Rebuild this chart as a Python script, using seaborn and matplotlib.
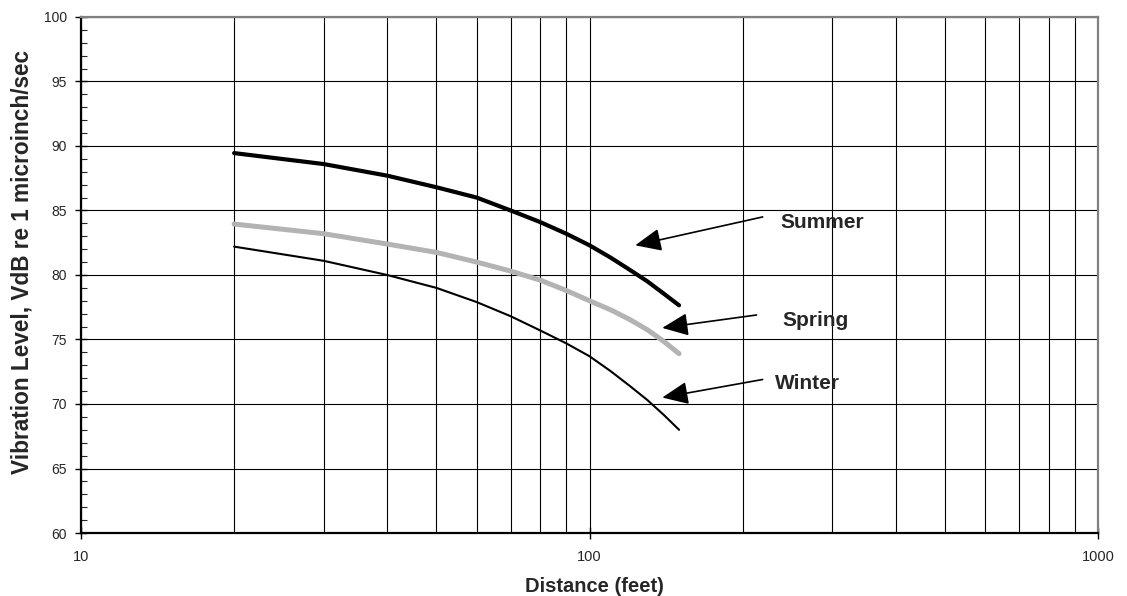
"""Vibration level vs distance for three seasons."""
import matplotlib
matplotlib.use('Agg')
import matplotlib.pyplot as plt
from matplotlib.ticker import FixedLocator, FixedFormatter, MultipleLocator, NullFormatter
import seaborn as sns

distance = [20, 30, 40, 50, 60, 70, 80, 90, 100, 110, 120, 130, 140, 150]
summer = [89.45, 88.6, 87.7, 86.8, 86.0, 85.0, 84.1, 83.2, 82.3, 81.35, 80.4, 79.5, 78.55, 77.65]
spring = [83.95, 83.2, 82.4, 81.75, 81.0, 80.3, 79.6, 78.8, 78.0, 77.3, 76.55, 75.75, 74.85, 73.9]
winter = [82.2, 81.1, 80.0, 79.0, 77.9, 76.8, 75.7, 74.7, 73.7, 72.55, 71.4, 70.3, 69.15, 68.0]

labels = ['Summer', 'Spring', 'Winter']
arrow_tail = [(219, 84.5), (213, 76.9), (219, 71.9)]
arrow_head = [(123, 82.3), (139, 75.9), (139, 70.5)]
label_pos = [(237, 84.1), (239, 76.5), (232, 71.6)]

sns.set_style('white')
plt.rcParams['font.family'] = ['Liberation Sans', 'DejaVu Sans']

fig = plt.figure(figsize=(11.27, 5.96), dpi=100)
ax = fig.add_axes([0.0719, 0.1057, 0.9024, 0.8658])

sns.lineplot(x=distance, y=summer, ax=ax, color='black', linewidth=3.0, zorder=5)
sns.lineplot(x=distance, y=spring, ax=ax, color='#b3b3b3', linewidth=3.6, zorder=4)
sns.lineplot(x=distance, y=winter, ax=ax, color='black', linewidth=1.5, zorder=5)

ax.set_xscale('log')
ax.set_xlim(10, 1000)
ax.set_ylim(60, 100)
ax.xaxis.set_major_locator(FixedLocator([10, 100, 1000]))
ax.xaxis.set_major_formatter(FixedFormatter(['10', '100', '1000']))
ax.xaxis.set_minor_locator(FixedLocator([20, 30, 40, 50, 60, 70, 80, 90,
                                         200, 300, 400, 500, 600, 700, 800, 900]))
ax.xaxis.set_minor_formatter(NullFormatter())
ax.yaxis.set_major_locator(MultipleLocator(5))
ax.yaxis.set_minor_locator(MultipleLocator(1))

ax.grid(True, which='major', color='black', linewidth=0.8)
ax.grid(True, which='minor', axis='x', color='black', linewidth=0.8)
ax.tick_params(axis='both', which='major', direction='inout', length=8, width=1,
               color='black', bottom=True, left=True)
ax.tick_params(axis='x', which='major', labelsize=10.5, pad=8)
ax.tick_params(axis='y', which='major', labelsize=10, pad=6)
ax.tick_params(axis='y', which='minor', direction='in', length=4, width=0.8, left=True)
ax.tick_params(axis='x', which='minor', length=0)

for side in ['left', 'bottom']:
    ax.spines[side].set_color('black')
    ax.spines[side].set_linewidth(1.6)
for side in ['top', 'right']:
    ax.spines[side].set_color('#808080')
    ax.spines[side].set_linewidth(1.6)

ax.set_xlabel('Distance (feet)', fontsize=14.5, fontweight='bold')
ax.set_ylabel('Vibration Level, VdB re 1 microinch/sec', fontsize=16.3,
              fontweight='bold')
ax.xaxis.set_label_coords(0.505, -0.085)
ax.yaxis.set_label_coords(-0.047, 0.525)

for lab, tail, head, pos in zip(labels, arrow_tail, arrow_head, label_pos):
    ax.annotate('', xy=head, xytext=tail,
                arrowprops=dict(arrowstyle='-|>,head_length=1.6,head_width=0.7',
                                mutation_scale=10, color='black', lw=1.2,
                                shrinkA=0, shrinkB=0))
    ax.text(pos[0], pos[1], lab, fontsize=15, fontweight='bold',
            ha='left', va='center')

fig.savefig('out.png', dpi=100)
